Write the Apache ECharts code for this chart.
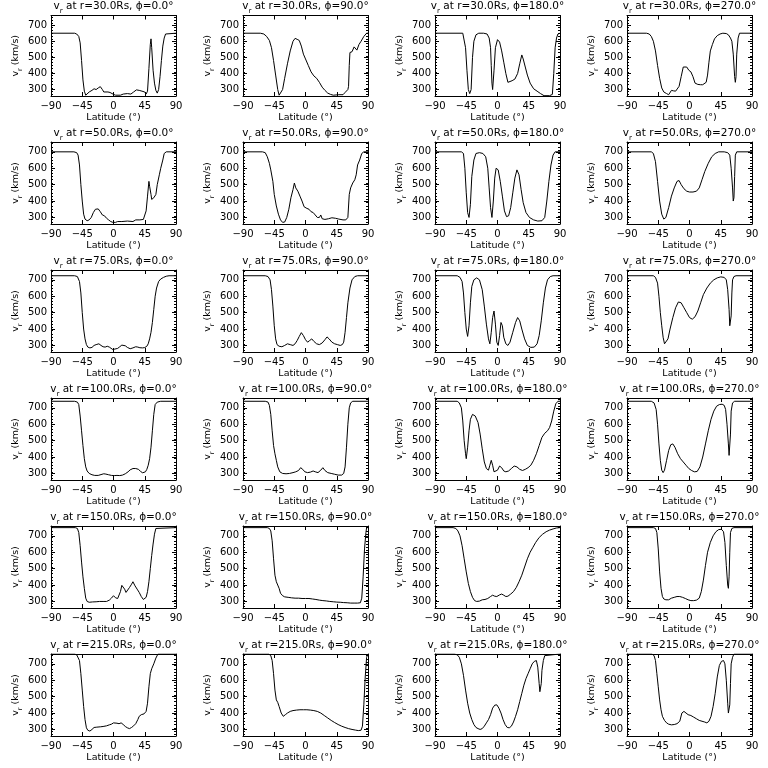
<!DOCTYPE html>
<html>
<head>
<meta charset="utf-8">
<script src="https://cdn.jsdelivr.net/npm/echarts@6/dist/echarts.min.js"></script>
<style>html,body{margin:0;padding:0;background:#fff}#c{width:768px;height:768px}</style>
</head>
<body>
<div id="c"></div>
<script>
// ---- data ----
const radii = ['30.0', '50.0', '75.0', '100.0', '150.0', '215.0'];
const phis = ['0.0', '90.0', '180.0', '270.0'];
const xTicks = [-90, -45, 0, 45, 90];
const yTicks = [300, 400, 500, 600, 700];
const yRange = [260, 760];

const r30_phi0 = [[-90,650],[-56,650],[-53,645],[-50,630],[-48,590],[-46,480],[-44,360],[-42,290],[-40,265],[-38,268],[-35,285],[-31,295],[-28,305],[-25,300],[-22,310],[-19,318],[-16,300],[-14,285],[-8,285],[-5,282],[-3,270],[0,270],[3,265],[10,265],[14,272],[20,275],[25,272],[29,285],[33,298],[37,295],[41,290],[45,285],[47,272],[49,290],[51,430],[53,580],[54,615],[55,560],[57,420],[59,340],[61,295],[63,278],[65,300],[67,380],[69,480],[71,570],[73,620],[75,645],[77,650],[90,650]];
const r30_phi90 = [[-90,650],[-65,650],[-60,645],[-56,630],[-52,605],[-49,560],[-46,480],[-43,390],[-40,300],[-38,265],[-36,268],[-33,300],[-30,370],[-26,460],[-22,540],[-18,600],[-15,618],[-12,612],[-9,605],[-6,570],[-3,520],[0,490],[4,450],[8,410],[12,385],[16,370],[20,345],[24,315],[28,295],[32,278],[36,270],[40,265],[48,268],[54,268],[57,282],[61,300],[62,320],[63,450],[64,530],[67,535],[70,565],[72,555],[74,545],[77,580],[80,600],[84,630],[88,650],[90,650]];
const r30_phi180 = [[-90,650],[-50,650],[-48,640],[-46,560],[-44,420],[-42,300],[-40,275],[-38,300],[-36,500],[-34,600],[-31,640],[-27,650],[-20,650],[-15,645],[-12,620],[-10,560],[-9,450],[-8,340],[-7,300],[-5,420],[-3,560],[0,610],[3,595],[6,540],[9,470],[12,400],[15,345],[17,340],[21,355],[25,365],[29,400],[32,460],[35,515],[37,490],[40,440],[43,390],[47,340],[52,305],[57,290],[62,275],[67,262],[75,262],[79,270],[81,400],[83,560],[85,620],[87,645],[90,650]];
const r30_phi270 = [[-90,650],[-62,650],[-58,645],[-55,630],[-52,600],[-49,540],[-46,450],[-43,370],[-40,310],[-37,285],[-33,275],[-30,268],[-28,268],[-26,295],[-23,292],[-20,290],[-18,285],[-15,320],[-12,380],[-9,440],[-7,452],[-4,440],[-1,420],[2,410],[5,380],[8,340],[12,332],[16,330],[19,330],[21,320],[24,345],[26,390],[28,470],[30,540],[33,580],[36,615],[40,635],[44,645],[48,650],[53,648],[56,640],[59,620],[61,600],[63,520],[65,380],[66,345],[67,380],[68,520],[70,620],[72,650],[90,650]];

const r50_phi0 = [[-90,700],[-57,700],[-53,695],[-51,680],[-49,620],[-47,500],[-45,400],[-43,320],[-41,290],[-38,280],[-35,285],[-32,300],[-29,330],[-26,350],[-22,352],[-19,335],[-16,315],[-13,310],[-10,295],[-7,285],[-4,275],[-1,270],[3,270],[6,275],[12,275],[20,278],[28,275],[32,285],[38,285],[43,288],[45,300],[47,340],[49,430],[51,520],[52,490],[54,440],[55,410],[58,420],[61,440],[63,500],[66,560],[68,600],[71,650],[73,690],[76,700],[90,700]];
const r50_phi90 = [[-90,700],[-62,700],[-58,695],[-55,670],[-52,630],[-50,590],[-47,520],[-45,440],[-42,370],[-39,320],[-36,285],[-33,270],[-30,272],[-27,300],[-24,350],[-21,420],[-18,470],[-16,510],[-14,480],[-11,460],[-8,430],[-5,400],[-2,365],[2,355],[5,350],[8,335],[11,330],[14,315],[17,300],[20,300],[22,315],[24,292],[28,288],[33,292],[38,298],[43,295],[48,290],[54,285],[58,285],[61,300],[63,440],[65,480],[68,510],[71,530],[73,560],[75,620],[78,650],[81,690],[84,700],[90,700]];
const r50_phi180 = [[-90,700],[-52,700],[-49,690],[-47,600],[-45,450],[-43,330],[-41,300],[-39,380],[-37,550],[-34,650],[-31,690],[-26,695],[-21,690],[-17,670],[-14,600],[-12,480],[-10,360],[-8,300],[-6,400],[-4,540],[-2,600],[1,590],[4,520],[7,430],[10,340],[13,305],[16,310],[19,360],[22,450],[25,540],[28,590],[31,560],[34,470],[37,390],[41,330],[46,300],[52,285],[58,278],[64,280],[68,300],[71,400],[74,520],[77,620],[80,680],[83,700],[90,700]];
const r50_phi270 = [[-90,700],[-55,700],[-52,690],[-49,640],[-46,520],[-43,400],[-40,320],[-37,290],[-34,300],[-30,360],[-26,430],[-22,480],[-18,520],[-15,525],[-12,500],[-8,475],[-4,460],[0,455],[5,455],[10,460],[14,480],[18,530],[22,580],[27,630],[32,670],[37,690],[42,700],[50,700],[55,695],[58,680],[60,600],[62,480],[63,400],[64,420],[65,550],[66,680],[68,700],[90,700]];

const r75_phi0 = [[-90,725],[-56,725],[-52,720],[-49,690],[-47,620],[-45,500],[-43,400],[-41,340],[-39,305],[-37,290],[-34,285],[-31,288],[-28,300],[-25,305],[-21,310],[-18,300],[-15,292],[-12,290],[-9,295],[-6,290],[-4,280],[-1,275],[2,278],[4,285],[6,282],[9,292],[12,302],[14,310],[17,298],[20,288],[24,280],[28,285],[32,292],[35,290],[38,286],[42,285],[45,287],[48,295],[50,310],[52,340],[54,380],[56,440],[58,520],[60,600],[62,650],[65,690],[68,705],[72,715],[76,722],[80,725],[90,725]];
const r75_phi90 = [[-90,725],[-58,725],[-54,720],[-51,700],[-49,640],[-47,540],[-45,420],[-43,340],[-41,305],[-38,295],[-34,292],[-30,300],[-26,310],[-22,305],[-18,300],[-15,310],[-12,330],[-9,355],[-6,378],[-3,360],[0,335],[3,320],[6,330],[9,340],[12,325],[16,310],[20,305],[24,315],[28,335],[31,352],[34,340],[38,320],[42,310],[46,305],[50,300],[53,305],[55,320],[57,380],[59,470],[61,560],[64,650],[67,700],[71,720],[75,725],[90,725]];
const r75_phi180 = [[-90,725],[-58,725],[-54,715],[-51,690],[-49,620],[-47,500],[-45,400],[-43,355],[-41,420],[-39,560],[-37,660],[-34,700],[-30,712],[-26,700],[-22,640],[-19,540],[-16,430],[-13,340],[-11,310],[-9,380],[-7,470],[-5,510],[-3,430],[-1,320],[1,300],[3,360],[5,440],[7,420],[9,350],[12,310],[15,300],[18,320],[22,380],[26,440],[29,470],[32,450],[35,400],[39,340],[43,300],[48,288],[53,290],[57,310],[60,360],[63,450],[66,560],[69,650],[72,700],[76,720],[80,725],[90,725]];
const r75_phi270 = [[-90,725],[-52,725],[-49,715],[-46,680],[-44,600],[-42,500],[-40,420],[-38,350],[-36,310],[-34,305],[-31,340],[-28,400],[-24,470],[-20,530],[-16,565],[-12,560],[-8,530],[-4,500],[0,470],[4,460],[8,475],[12,510],[16,560],[20,610],[25,650],[30,680],[35,700],[40,712],[45,718],[50,715],[53,700],[55,640],[57,520],[58,420],[59,410],[60,480],[61,620],[62,700],[64,720],[67,725],[90,725]];

const r100_phi0 = [[-90,740],[-56,740],[-52,735],[-50,720],[-48,650],[-46,560],[-44,470],[-42,390],[-40,340],[-38,315],[-35,300],[-31,292],[-27,288],[-22,288],[-18,293],[-14,298],[-11,296],[-7,292],[-3,288],[1,287],[5,288],[9,287],[13,290],[17,298],[21,310],[24,322],[28,330],[32,330],[36,325],[39,312],[42,304],[44,300],[46,310],[48,325],[50,350],[52,390],[54,460],[56,560],[58,660],[60,720],[63,735],[68,740],[90,740]];
const r100_phi90 = [[-90,740],[-58,740],[-54,735],[-52,715],[-50,660],[-48,560],[-46,470],[-44,420],[-42,380],[-40,340],[-37,310],[-33,300],[-28,298],[-23,300],[-18,305],[-14,310],[-10,318],[-7,335],[-4,325],[-1,310],[3,305],[7,308],[11,315],[14,310],[18,305],[22,320],[25,335],[28,318],[32,305],[37,300],[42,295],[47,290],[52,290],[55,300],[57,340],[59,460],[61,600],[63,700],[65,730],[68,740],[90,740]];
const r100_phi180 = [[-90,740],[-58,740],[-55,730],[-52,700],[-50,620],[-48,500],[-46,420],[-45,390],[-43,460],[-41,560],[-39,630],[-36,660],[-32,650],[-28,610],[-25,540],[-22,450],[-19,370],[-16,330],[-13,320],[-11,350],[-9,380],[-7,350],[-5,310],[-3,300],[0,320],[3,345],[6,335],[9,315],[12,310],[16,315],[20,330],[24,345],[28,340],[32,325],[36,318],[40,325],[44,335],[48,350],[52,380],[56,420],[60,470],[64,520],[68,545],[72,560],[75,580],[78,620],[81,680],[84,725],[87,740],[90,740]];
const r100_phi270 = [[-90,740],[-55,740],[-51,730],[-48,690],[-46,600],[-44,480],[-42,380],[-40,320],[-38,305],[-36,320],[-33,380],[-30,440],[-27,475],[-24,480],[-21,460],[-17,420],[-13,390],[-9,370],[-5,350],[-1,330],[3,318],[7,310],[11,312],[15,340],[19,400],[23,480],[27,560],[31,630],[35,680],[39,710],[43,720],[47,722],[50,715],[52,690],[54,600],[56,480],[57,410],[58,420],[59,540],[60,680],[62,730],[65,740],[90,740]];

const r150_phi0 = [[-90,750],[-55,750],[-52,745],[-50,720],[-48,640],[-46,540],[-44,450],[-42,380],[-40,320],[-38,300],[-35,295],[-30,297],[-25,298],[-20,300],[-15,300],[-10,300],[-6,308],[-3,320],[0,335],[3,322],[6,318],[8,330],[10,360],[12,398],[14,390],[16,375],[18,355],[20,360],[23,385],[26,405],[28,420],[31,395],[34,375],[37,355],[40,330],[43,312],[45,310],[47,325],[49,360],[51,420],[53,500],[55,580],[57,650],[59,710],[61,745],[63,750],[90,750]];
const r150_phi90 = [[-90,750],[-55,750],[-52,745],[-50,730],[-48,670],[-46,560],[-44,460],[-42,420],[-40,400],[-38,380],[-36,350],[-33,335],[-30,328],[-25,325],[-20,322],[-15,320],[-10,320],[-5,318],[0,318],[5,318],[10,315],[15,312],[20,308],[25,305],[30,303],[35,300],[40,298],[45,296],[50,295],[55,293],[60,292],[65,290],[70,290],[75,290],[79,292],[81,320],[83,450],[85,620],[87,720],[88,750],[90,750]];
const r150_phi180 = [[-90,750],[-64,750],[-60,745],[-57,730],[-54,700],[-51,640],[-48,560],[-45,480],[-42,410],[-39,360],[-36,325],[-33,305],[-30,300],[-26,302],[-22,310],[-18,312],[-14,318],[-10,330],[-7,338],[-4,332],[-1,330],[3,340],[6,345],[9,338],[12,330],[15,332],[19,345],[23,360],[27,385],[31,420],[35,460],[39,510],[43,560],[47,600],[51,630],[55,660],[60,690],[65,710],[70,725],[75,735],[80,742],[85,748],[90,750]];
const r150_phi270 = [[-90,750],[-52,750],[-49,745],[-47,720],[-45,620],[-43,480],[-41,380],[-39,330],[-37,315],[-34,310],[-30,310],[-26,320],[-22,325],[-18,330],[-14,330],[-10,325],[-6,318],[-2,310],[2,305],[6,305],[10,308],[14,320],[17,360],[20,430],[23,520],[26,600],[30,660],[34,700],[38,725],[42,738],[46,740],[49,725],[51,660],[53,520],[55,400],[56,380],[57,450],[58,600],[59,720],[61,745],[64,750],[90,750]];

const r215_phi0 = [[-90,760],[-56,760],[-53,755],[-51,745],[-49,720],[-47,640],[-45,540],[-43,440],[-41,360],[-39,310],[-37,295],[-34,290],[-31,300],[-28,312],[-24,314],[-19,316],[-15,318],[-10,322],[-6,328],[-3,332],[0,340],[2,345],[5,338],[8,335],[11,340],[14,330],[17,318],[20,310],[23,305],[26,312],[29,322],[32,335],[35,360],[37,380],[40,390],[44,395],[47,410],[49,460],[51,560],[53,640],[55,670],[58,700],[61,735],[64,760],[90,760]];
const r215_phi90 = [[-90,760],[-53,760],[-50,750],[-48,720],[-46,640],[-44,540],[-42,480],[-40,465],[-38,440],[-35,400],[-32,380],[-29,390],[-26,400],[-22,410],[-18,415],[-13,418],[-8,420],[-3,420],[2,420],[7,418],[12,415],[17,410],[22,400],[27,385],[32,370],[37,355],[42,342],[47,330],[52,320],[57,312],[62,305],[67,300],[72,296],[76,293],[80,295],[82,320],[84,450],[86,620],[88,740],[90,760]];
const r215_phi180 = [[-90,760],[-62,760],[-58,755],[-55,740],[-52,700],[-49,630],[-46,540],[-43,460],[-40,400],[-37,360],[-34,330],[-31,312],[-28,305],[-25,300],[-22,305],[-19,320],[-16,340],[-13,360],[-10,390],[-7,430],[-4,448],[-1,450],[2,430],[5,400],[8,360],[11,330],[14,312],[17,310],[20,320],[23,345],[26,380],[29,420],[32,470],[35,520],[38,570],[41,610],[44,640],[47,670],[50,700],[53,715],[56,720],[58,680],[60,580],[61,530],[62,520],[63,580],[64,660],[66,720],[68,750],[70,760],[90,760]];
const r215_phi270 = [[-90,760],[-54,760],[-51,750],[-49,720],[-47,640],[-45,560],[-43,480],[-41,420],[-39,380],[-36,355],[-33,340],[-30,332],[-26,328],[-22,330],[-18,335],[-14,350],[-11,400],[-8,410],[-5,400],[-2,390],[2,385],[6,375],[10,365],[14,355],[18,350],[22,345],[25,340],[28,350],[31,380],[34,440],[37,520],[40,620],[43,690],[46,715],[49,720],[51,700],[53,600],[55,460],[56,400],[57,390],[58,450],[59,580],[60,700],[62,740],[64,760],[90,760]];

const panels = [
  [r30_phi0, r30_phi90, r30_phi180, r30_phi270],
  [r50_phi0, r50_phi90, r50_phi180, r50_phi270],
  [r75_phi0, r75_phi90, r75_phi180, r75_phi270],
  [r100_phi0, r100_phi90, r100_phi180, r100_phi270],
  [r150_phi0, r150_phi90, r150_phi180, r150_phi270],
  [r215_phi0, r215_phi90, r215_phi180, r215_phi270]
];

// ---- layout ----
const CELL_W = 192, CELL_H = 128;
const PL = 51, PT = 14, PW = 125, PH = 82;
const FONT = 'DejaVu Sans';
const BLACK = '#000';

const richSub = {
  m: { fontFamily: FONT, fontSize: 10.5, color: BLACK, verticalAlign: 'bottom', padding: [0, 0, 3, 0] },
  s: { fontFamily: FONT, fontSize: 7, color: BLACK, verticalAlign: 'bottom' }
};
const richSubY = {
  m: { fontFamily: FONT, fontSize: 9.5, color: BLACK, verticalAlign: 'bottom', padding: [0, 0, 3, 0] },
  s: { fontFamily: FONT, fontSize: 6.5, color: BLACK, verticalAlign: 'bottom' }
};
const minusFmt = v => String(v).replace('-', '\u2212');

const grid = [], xAxis = [], yAxis = [], series = [];
radii.forEach((r, i) => {
  phis.forEach((p, j) => {
    const g = grid.length;
    grid.push({ left: j * CELL_W + PL, top: i * CELL_H + PT, width: PW, height: PH, containLabel: false });
    const xb = xAxis.length;
    xAxis.push({
      gridIndex: g, type: 'value', min: xTicks[0], max: xTicks[xTicks.length - 1], interval: 45, position: 'bottom',
      axisLine: { show: true, onZero: false, lineStyle: { color: BLACK, width: 1 } },
      axisTick: { show: true, inside: true, length: 4, lineStyle: { color: BLACK, width: 1 } },
      axisLabel: { show: true, color: BLACK, fontFamily: FONT, fontSize: 10, margin: 5, formatter: minusFmt, showMinLabel: true, showMaxLabel: true },
      splitLine: { show: false },
      name: 'Latitude (°)', nameLocation: 'middle', nameGap: 17,
      nameTextStyle: { color: BLACK, fontFamily: FONT, fontSize: 9.5 }
    });
    xAxis.push({
      gridIndex: g, type: 'value', min: xTicks[0], max: xTicks[xTicks.length - 1], interval: 45, position: 'top',
      axisLine: { show: true, onZero: false, lineStyle: { color: BLACK, width: 1 } },
      axisTick: { show: true, inside: true, length: 4, lineStyle: { color: BLACK, width: 1 } },
      axisLabel: { show: false }, splitLine: { show: false },
      name: '{m|v}{s|r}{m| at r=' + r + 'Rs, \u03d5=' + p + '°}', nameLocation: 'middle', nameGap: 0.5,
      nameTextStyle: { rich: richSub }
    });
    const yl = yAxis.length;
    const mkY = (pos) => ({
      gridIndex: g, type: 'value', min: yRange[0], max: yRange[1], interval: 20, position: pos,
      axisLine: { show: true, onZero: false, lineStyle: { color: BLACK, width: 1 } },
      axisTick: { show: true, inside: true, length: 4, customValues: yTicks, lineStyle: { color: BLACK, width: 1 } },
      minorTick: { show: true, splitNumber: 2, length: 2, lineStyle: { color: BLACK, width: 1 } },
      axisLabel: pos === 'left'
        ? { show: true, customValues: yTicks, color: BLACK, fontFamily: FONT, fontSize: 10, margin: 4 }
        : { show: false },
      splitLine: { show: false }, minorSplitLine: { show: false },
      name: pos === 'left' ? '{m|v}{s|r}{m| (km/s)}' : '', nameLocation: 'middle', nameGap: 22,
      nameTextStyle: { rich: richSubY }
    });
    yAxis.push(mkY('left'));
    yAxis.push(mkY('right'));
    series.push({
      type: 'line', xAxisIndex: xb, yAxisIndex: yl, data: panels[i][j],
      symbol: 'none', showSymbol: false, silent: true, clip: true,
      lineStyle: { color: BLACK, width: 1 }
    });
  });
});

const chart = echarts.init(document.getElementById('c'), null, { renderer: 'canvas' });
chart.setOption({ backgroundColor: '#fff', animation: false, grid, xAxis, yAxis, series });
</script>
</body>
</html>
